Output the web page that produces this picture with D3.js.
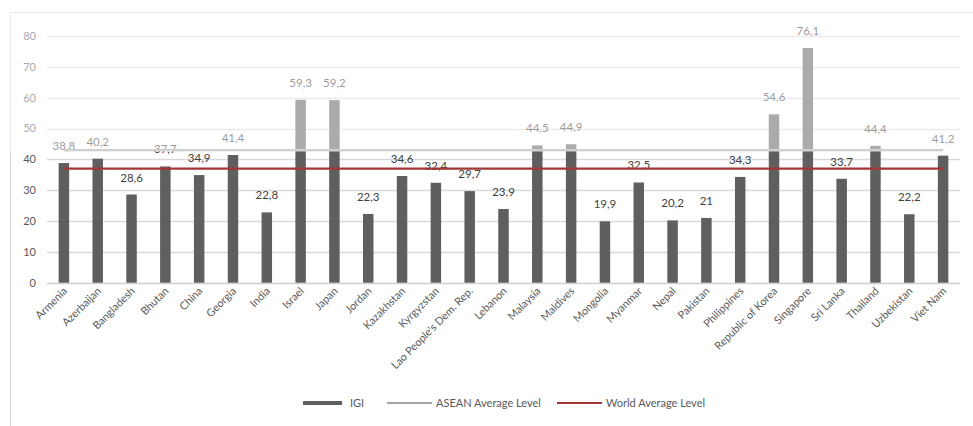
<!DOCTYPE html>
<html>
<head>
<meta charset="utf-8">
<script src="https://cdn.jsdelivr.net/npm/d3@7"></script>
<style>
  html, body { margin: 0; padding: 0; background: #fff; }
  svg { display: block; font-family: Lato, "Liberation Sans", sans-serif; }
</style>
</head>
<body>
<svg id="chart" width="973" height="426"></svg>
<script>
const categories = ["Armenia","Azerbaijan","Bangladesh","Bhutan","China","Georgia","India","Israel","Japan","Jordan","Kazakhstan","Kyrgyzstan","Lao People's Dem. Rep.","Lebanon","Malaysia","Maldives","Mongolia","Myanmar","Nepal","Pakistan","Philippines","Republic of Korea","Singapore","Sri Lanka","Thailand","Uzbekistan","Viet Nam"];
const igiValues = [38.8,40.2,28.6,37.7,34.9,41.4,22.8,59.3,59.2,22.3,34.6,32.4,29.7,23.9,44.5,44.9,19.9,32.5,20.2,21,34.3,54.6,76.1,33.7,44.4,22.2,41.2];
const aseanAverage = 43.0;
const worldAverage = 37.0;
const yTicks = [0,10,20,30,40,50,60,70,80];
const legendLabels = ["IGI","ASEAN Average Level","World Average Level"];

const svg = d3.select("#chart");
const W = 973, H = 426;
const plot = {left: 47, right: 960, top: 36, bottom: 282.7};

const x = d3.scaleBand().domain(categories).range([plot.left, plot.right]).paddingInner(0.69).paddingOuter(0.345);
const y = d3.scaleLinear().domain([0, 80]).range([plot.bottom, plot.top]);

const barColor = "#5f5f5f";
const aseanColor = "#a6a6a6";
const worldColor = "#a33535";
const textColor = "#595959";

// chart border
svg.append("rect").attr("x", 10.5).attr("y", 12.5).attr("width", 1000).attr("height", 500)
  .attr("fill", "none").attr("stroke", "#d9d9d9").attr("stroke-width", 1);

// gridlines
svg.append("g").selectAll("line").data(yTicks).join("line")
  .attr("x1", plot.left).attr("x2", plot.right)
  .attr("y1", d => Math.round(y(d)) + 0.5).attr("y2", d => Math.round(y(d)) + 0.5)
  .attr("stroke", d => d === 0 ? "#d0d0d0" : "#d9d9d9").attr("stroke-width", 1.3);

// y tick labels
svg.append("g").selectAll("text").data(yTicks).join("text")
  .attr("x", 36).attr("y", d => y(d)).attr("dy", "0.35em")
  .attr("text-anchor", "end").attr("font-size", 11).attr("fill", textColor)
  .text(d => d);

// bars
svg.append("g").selectAll("rect").data(igiValues).join("rect")
  .attr("x", (d, i) => x(categories[i])).attr("width", x.bandwidth())
  .attr("y", d => y(d)).attr("height", d => y(0) - y(d))
  .attr("fill", barColor);

// value labels
const fmt = v => String(v).replace(".", ",");
svg.append("g").selectAll("text").data(igiValues).join("text")
  .attr("x", (d, i) => x(categories[i]) + x.bandwidth() / 2)
  .attr("y", d => y(d) - 13)
  .attr("text-anchor", "middle").attr("font-size", 11.5).attr("fill", "#404040")
  .text(d => fmt(d));

// x labels
svg.append("g").selectAll("text").data(categories).join("text")
  .attr("transform", d => `translate(${x(d) + x.bandwidth() / 2 + 4},${plot.bottom + 9}) rotate(-45)`)
  .attr("text-anchor", "end").attr("font-size", 10.8).attr("fill", textColor)
  .text(d => d);

// ASEAN line
const x0 = x(categories[0]) + x.bandwidth() / 2;
const x1 = x(categories[categories.length - 1]) + x.bandwidth() / 2;
svg.append("line").attr("x1", x0).attr("x2", x1)
  .attr("y1", y(aseanAverage)).attr("y2", y(aseanAverage))
  .attr("stroke", aseanColor).attr("stroke-width", 2.2);

// wash-out overlay above ASEAN level
svg.append("rect").attr("x", 0).attr("y", 0).attr("width", W)
  .attr("height", y(aseanAverage) + 1.5)
  .attr("fill", "#ffffff").attr("opacity", 0.48);

// World line
svg.append("line").attr("x1", x0).attr("x2", x1)
  .attr("y1", y(worldAverage)).attr("y2", y(worldAverage))
  .attr("stroke", worldColor).attr("stroke-width", 2.2);

// legend
const ly = 403;
const leg = svg.append("g").attr("font-size", 11).attr("fill", textColor);
leg.append("rect").attr("x", 303).attr("y", ly - 2).attr("width", 39).attr("height", 4).attr("fill", barColor);
leg.append("text").attr("x", 350).attr("y", ly).attr("dy", "0.35em").text(legendLabels[0]);
leg.append("line").attr("x1", 387).attr("x2", 432).attr("y1", ly).attr("y2", ly).attr("stroke", aseanColor).attr("stroke-width", 2);
leg.append("text").attr("x", 436).attr("y", ly).attr("dy", "0.35em").text(legendLabels[1]);
leg.append("line").attr("x1", 557).attr("x2", 602).attr("y1", ly).attr("y2", ly).attr("stroke", worldColor).attr("stroke-width", 2);
leg.append("text").attr("x", 606).attr("y", ly).attr("dy", "0.35em").text(legendLabels[2]);
</script>
</body>
</html>
